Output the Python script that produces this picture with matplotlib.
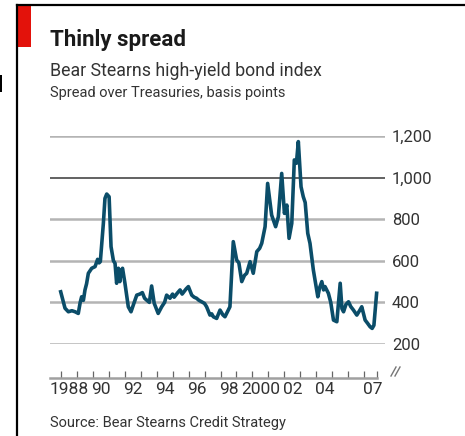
import matplotlib
matplotlib.use("Agg")
import matplotlib.pyplot as plt
from matplotlib.lines import Line2D
from matplotlib.patches import Rectangle
import matplotlib.ticker as mticker

# ---- data ----
years = [1988.00, 1988.27, 1988.48, 1988.70, 1988.90, 1989.10, 1989.22, 1989.31, 1989.42,
         1989.52, 1989.62, 1989.73, 1989.94, 1990.15, 1990.31, 1990.40, 1990.48, 1990.67,
         1990.77, 1990.88, 1991.03, 1991.15, 1991.30, 1991.40, 1991.50, 1991.61, 1991.70,
         1991.78, 1991.87, 1992.02, 1992.23, 1992.40, 1992.60, 1992.76, 1992.95, 1993.11,
         1993.25, 1993.38, 1993.55, 1993.69, 1993.85, 1994.10, 1994.32, 1994.50, 1994.63,
         1994.84, 1995.00, 1995.10, 1995.30, 1995.47, 1995.60, 1995.70, 1995.85, 1995.99,
         1996.20, 1996.35, 1996.50, 1996.65, 1996.82, 1997.00, 1997.13, 1997.34, 1997.45,
         1997.55, 1997.76, 1997.97, 1998.15, 1998.28, 1998.59, 1998.80, 1999.01, 1999.15,
         1999.33, 1999.50, 1999.64, 1999.85, 2000.05, 2000.27, 2000.45, 2000.58, 2000.79,
         2000.95, 2001.20, 2001.45, 2001.62, 2001.83, 2002.00, 2002.15, 2002.29, 2002.46,
         2002.62, 2002.75, 2002.87, 2003.04, 2003.18, 2003.30, 2003.46, 2003.60, 2003.81,
         2004.09, 2004.20, 2004.34, 2004.45, 2004.54, 2004.75, 2004.90, 2005.07, 2005.28,
         2005.49, 2005.60, 2005.70, 2005.85, 2006.01, 2006.15, 2006.32, 2006.53, 2006.70,
         2006.84, 2007.05, 2007.20, 2007.36, 2007.49, 2007.60, 2007.77]
spread = [451, 372, 355, 360, 355, 347, 400, 427, 410,
          460, 490, 540, 564, 572, 607, 590, 596, 780,
          900, 921, 908, 668, 600, 588, 492, 564, 500,
          550, 564, 492, 379, 355, 400, 435, 440, 447,
          420, 411, 400, 479, 396, 347, 379, 400, 435,
          420, 440, 425, 445, 460, 440, 450, 465, 476,
          435, 425, 420, 410, 403, 395, 379, 339, 345,
          331, 323, 363, 340, 331, 379, 692, 604, 590,
          500, 530, 540, 596, 540, 644, 660, 684, 764,
          972, 820, 764, 812, 1020, 828, 868, 708, 780,
          1085, 1069, 1173, 956, 908, 880, 732, 684, 556,
          427, 470, 500, 460, 476, 444, 400, 315, 307,
          492, 370, 355, 390, 403, 380, 363, 339, 360,
          379, 315, 300, 283, 275, 290, 444]
y_ticks = [200, 400, 600, 800, 1000, 1200]
x_label_pos = [1988.5, 1990.5, 1992.5, 1994.5, 1996.5, 1998.5, 2000.5, 2002.5, 2004.5, 2007.5]
x_labels = ["1988", "90", "92", "94", "96", "98", "2000", "02", "04", "07"]

W, H = 465, 436
fig = plt.figure(figsize=(W / 100, H / 100), dpi=100)
FONT = ["Roboto", "DejaVu Sans"]
plt.rcParams['font.family'] = FONT

def fx(px):
    return px / W

def fy(py):
    return 1 - py / H

# axes: x 50..385 px, y 136 (1200) .. 344 (200)
ax = fig.add_axes([fx(50), fy(344), fx(385) - fx(50), fy(136) - fy(344)])
ax.set_ylim(200, 1200)
x0 = 1988 - (60.7 - 50) / 15.98
x1 = 1988 + (385 - 60.7) / 15.98
ax.set_xlim(x0, x1)

for v in y_ticks:
    if v == 1000:
        ax.axhline(v, color="#555555", lw=1.3, zorder=1)
    else:
        ax.axhline(v, color="#b4b4b4", lw=1.8, zorder=1)

ax.plot(years, spread, color="#0b4d69", lw=2.6, solid_joinstyle="round", zorder=3, clip_on=False)

for s in ["top", "left", "right"]:
    ax.spines[s].set_visible(False)
ax.spines["bottom"].set_position(("outward", 34 * 0.72))
ax.spines["bottom"].set_color("#a0a0a0")
ax.spines["bottom"].set_linewidth(1.8)
x_end = 1988 + (377 - 60.7) / 15.98
ax.spines["bottom"].set_bounds(x0, x_end)

ax.yaxis.tick_right()
ax.set_yticks(y_ticks)
ax.set_yticklabels([f"{v:,}" for v in y_ticks], fontsize=12, color="#333333")
ax.tick_params(axis="y", length=0, pad=5)

ax.set_xticks(list(range(1988, 2008)) + [x_end])
ax.xaxis.set_major_formatter(mticker.NullFormatter())
ax.tick_params(axis="x", which="major", direction="in", length=5, width=0.9, color="#666666")
ax.set_xticks(x_label_pos, minor=True)
ax.set_xticklabels(x_labels, minor=True, fontsize=12.5, color="#333333")
ax.tick_params(axis="x", which="minor", length=0, pad=3)

# break symbol
for dx in (0, 4):
    fig.add_artist(Line2D([fx(391 + dx), fx(396 + dx)], [fy(376), fy(367)],
                          color="#777777", lw=1.0, transform=fig.transFigure))

# frame decorations
fig.add_artist(Line2D([fx(17), fx(17)], [fy(5), fy(436)], color="black", lw=1.6,
                      transform=fig.transFigure))
fig.add_artist(Line2D([fx(17), fx(464)], [fy(5), fy(5)], color="black", lw=1.6,
                      transform=fig.transFigure))
fig.add_artist(Rectangle((fx(17), fy(47)), fx(31) - fx(17), fy(5) - fy(47),
                         color="#e3120b", transform=fig.transFigure, lw=0))
fig.add_artist(Rectangle((fx(0), fy(92)), fx(2), fy(75) - fy(92),
                         color="black", transform=fig.transFigure, lw=0))

# texts
fig.text(fx(50), fy(46), "Thinly spread", fontsize=16, fontweight="bold", color="#1a1a1a",
         va="baseline")
fig.text(fx(50), fy(76), "Bear Stearns high-yield bond index", fontsize=12.8, color="#333333",
         va="baseline")
fig.text(fx(50), fy(97), "Spread over Treasuries, basis points", fontsize=10.5, color="#333333",
         va="baseline")
fig.text(fx(50), fy(427), "Source: Bear Stearns Credit Strategy", fontsize=10.5, color="#333333",
         va="baseline")

fig.savefig("out.png", dpi=100)
